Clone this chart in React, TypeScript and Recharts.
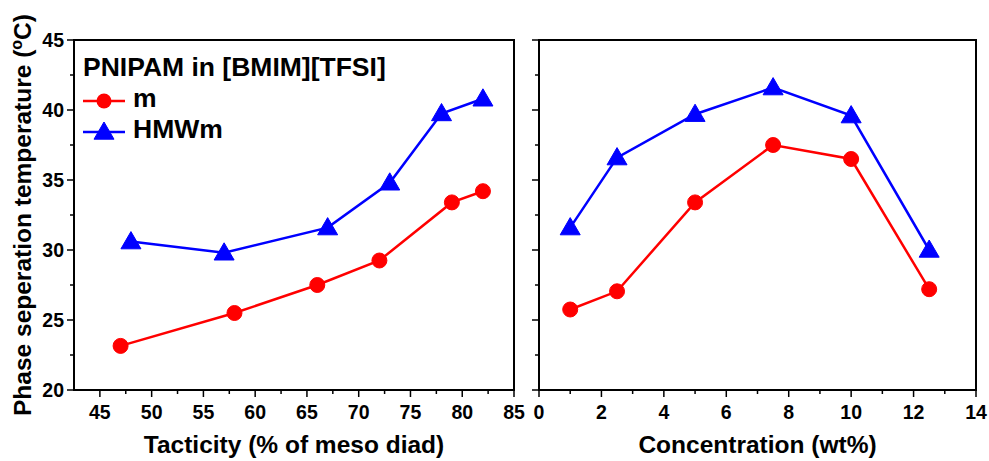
import { LineChart, Line, XAxis, YAxis, ReferenceArea, Legend, Label } from 'recharts';

// tacticity panel
const tacticityM = [47, 58, 66, 72, 79, 82];
const tempMByTacticity = [23.15, 25.5, 27.5, 29.25, 33.4, 34.2];
const tacticityHMWm = [48, 57, 67, 73, 78, 82];
const tempHMWmByTacticity = [30.6, 29.8, 31.6, 34.8, 39.75, 40.8];

// concentration panel
const concentration = [1, 2.5, 5, 7.5, 10, 12.5];
const tempMByConc = [25.75, 27.05, 33.4, 37.5, 36.5, 27.2];
const tempHMWmByConc = [31.6, 36.6, 39.7, 41.6, 39.6, 30.0];

const tacticityTicks = [45, 47.5, 50, 52.5, 55, 57.5, 60, 62.5, 65, 67.5, 70, 72.5, 75, 77.5, 80, 82.5, 85];
const concentrationTicks = [0, 1, 2, 3, 4, 5, 6, 7, 8, 9, 10, 11, 12, 13, 14];
const tempTicks = [20, 22.5, 25, 27.5, 30, 32.5, 35, 37.5, 40, 42.5, 45];

const seriesNames = ['m', 'HMWm'];
const legendTitle = 'PNIPAM in [BMIM][TFSI]';

const RED = '#ff0000';
const BLUE = '#0000ff';
const FONT = '"Liberation Sans", Arial, Helvetica, sans-serif';

const toPoints = (xs: number[], ys: number[]) => xs.map((x, i) => ({ x, y: ys[i] }));

const bottomTick = (isMajor: (v: number) => boolean) => (props: any) => {
  const { x, y, payload } = props;
  const major = isMajor(payload.value);
  return (
    <g>
      <line x1={x} x2={x} y1={y} y2={y + (major ? 7 : 4)} stroke="#000" strokeWidth={1.5} />
      {major && (
        <text x={x} y={y + 29} textAnchor="middle" fontSize={19.5} fontWeight="bold" fontFamily={FONT} fill="#000">
          {payload.value}
        </text>
      )}
    </g>
  );
};

const leftTick = (showLabel: boolean) => (props: any) => {
  const { x, y, payload } = props;
  const major = payload.value % 5 === 0;
  return (
    <g>
      <line x1={x} x2={x - (major ? 7 : 4)} y1={y} y2={y} stroke="#000" strokeWidth={1.5} />
      {major && showLabel && (
        <text x={x - 10} y={y + 7} textAnchor="end" fontSize={19.5} fontWeight="bold" fontFamily={FONT} fill="#000">
          {payload.value}
        </text>
      )}
    </g>
  );
};

const Triangle = ({ cx, cy, size = 10 }: { cx: number, cy: number, size?: number }) => (
  <polygon
    points={`${cx},${cy - size} ${cx - size},${cy + size * 0.72} ${cx + size},${cy + size * 0.72}`}
    fill={BLUE}
    stroke={BLUE}
  />
);

const triangleDot = (props: any) => <Triangle key={props.index} cx={props.cx} cy={props.cy} />;

const renderLegend = () => (
  <div style={{ fontFamily: FONT, fontWeight: 'bold', fontSize: 26.5, lineHeight: '31px', color: '#000' }}>
    <div>{legendTitle}</div>
    {seriesNames.map((name, i) => (
      <div key={name} style={{ display: 'flex', height: 31 }}>
        <svg width={42} height={31} style={{ display: 'block' }}>
          <line x1={0} x2={42} y1={18} y2={18} stroke={i === 0 ? RED : BLUE} strokeWidth={2.5} />
          {i === 0 ? <circle cx={21} cy={18} r={7.5} fill={RED} /> : <Triangle cx={21} cy={18} />}
        </svg>
        <span style={{ marginLeft: 8 }}>{name}</span>
      </div>
    ))}
  </div>
);

const renderYTitle = (props: any) => {
  const vb = props.viewBox || { x: 0, y: 40, width: 74, height: 350 };
  const cx = 31;
  const cy = vb.y + vb.height / 2;
  return (
    <text
      x={cx}
      y={cy}
      transform={`rotate(-90 ${cx} ${cy})`}
      textAnchor="middle"
      fontSize={24.5}
      fontWeight="bold"
      fontFamily={FONT}
      fill="#000"
    >
      Phase seperation temperature (<tspan fontSize={16} dy={-9}>o</tspan><tspan dy={9}>C</tspan>)
    </text>
  );
};

const axisLine = { stroke: '#000', strokeWidth: 2 };
const titleStyle = { fontSize: 24.5, fontWeight: 'bold', fontFamily: FONT, fill: '#000' };

export default function App() {
  return (
    <div style={{ position: 'absolute', left: 0, top: 0, width: 989, height: 461, background: '#fff' }}>
      <div style={{ position: 'absolute', left: 0, top: 0 }}>
        <LineChart width={536} height={461} margin={{ top: 40, right: 22, bottom: 0, left: 0 }}>
          <XAxis
            type="number"
            dataKey="x"
            domain={[42.5, 85]}
            allowDataOverflow
            ticks={tacticityTicks}
            interval={0}
            tickSize={0}
            tickMargin={0}
            tickLine={false}
            axisLine={axisLine}
            tick={bottomTick(v => v % 5 === 0)}
            height={71}
          >
            <Label value="Tacticity (% of meso diad)" position="insideBottom" offset={8} style={titleStyle} />
          </XAxis>
          <YAxis
            type="number"
            domain={[20, 45]}
            allowDataOverflow
            ticks={tempTicks}
            interval={0}
            tickSize={0}
            tickMargin={0}
            tickLine={false}
            axisLine={axisLine}
            tick={leftTick(true)}
            width={74}
          >
            <Label content={renderYTitle} />
          </YAxis>
          <ReferenceArea x1={42.5} x2={85} y1={20} y2={45} fill="none" stroke="#000" strokeWidth={2} ifOverflow="visible" />
          <Legend
            layout="vertical"
            align="center"
            verticalAlign="middle"
            content={renderLegend}
            wrapperStyle={{ left: 83, top: 52, width: 340 }}
          />
          <Line
            name={seriesNames[0]}
            data={toPoints(tacticityM, tempMByTacticity)}
            dataKey="y"
            stroke={RED}
            strokeWidth={2.5}
            dot={{ r: 7.5, fill: RED, stroke: RED, strokeWidth: 1 }}
            isAnimationActive={false}
          />
          <Line
            name={seriesNames[1]}
            data={toPoints(tacticityHMWm, tempHMWmByTacticity)}
            dataKey="y"
            stroke={BLUE}
            strokeWidth={2.5}
            dot={triangleDot}
            isAnimationActive={false}
          />
        </LineChart>
      </div>
      <div style={{ position: 'absolute', left: 520, top: 0 }}>
        <LineChart width={469} height={461} margin={{ top: 40, right: 13, bottom: 0, left: 0 }}>
          <XAxis
            type="number"
            dataKey="x"
            domain={[0, 14]}
            allowDataOverflow
            ticks={concentrationTicks}
            interval={0}
            tickSize={0}
            tickMargin={0}
            tickLine={false}
            axisLine={axisLine}
            tick={bottomTick(v => v % 2 === 0)}
            height={71}
          >
            <Label value="Concentration (wt%)" position="insideBottom" offset={8} style={titleStyle} />
          </XAxis>
          <YAxis
            type="number"
            domain={[20, 45]}
            allowDataOverflow
            ticks={tempTicks}
            interval={0}
            tickSize={0}
            tickMargin={0}
            tickLine={false}
            axisLine={axisLine}
            tick={leftTick(false)}
            width={19}
          />
          <ReferenceArea x1={0} x2={14} y1={20} y2={45} fill="none" stroke="#000" strokeWidth={2} ifOverflow="visible" />
          <Line
            name={seriesNames[0]}
            data={toPoints(concentration, tempMByConc)}
            dataKey="y"
            stroke={RED}
            strokeWidth={2.5}
            dot={{ r: 7.5, fill: RED, stroke: RED, strokeWidth: 1 }}
            isAnimationActive={false}
          />
          <Line
            name={seriesNames[1]}
            data={toPoints(concentration, tempHMWmByConc)}
            dataKey="y"
            stroke={BLUE}
            strokeWidth={2.5}
            dot={triangleDot}
            isAnimationActive={false}
          />
        </LineChart>
      </div>
    </div>
  );
}
